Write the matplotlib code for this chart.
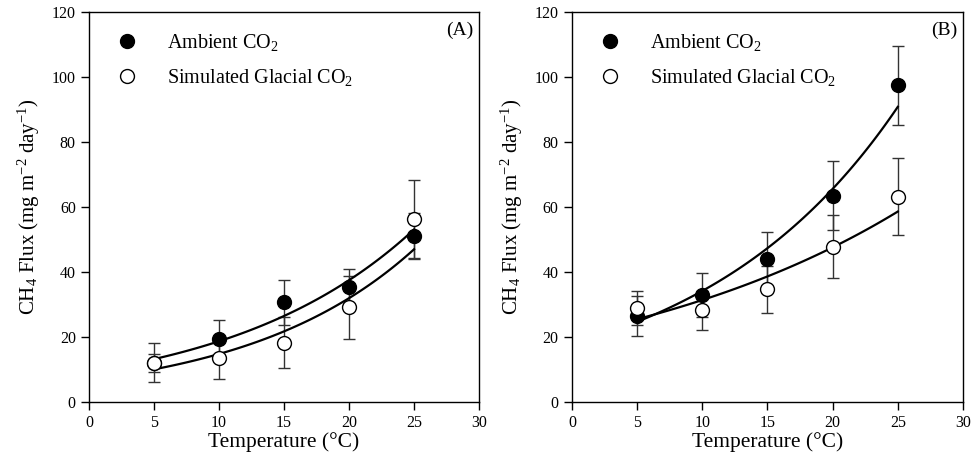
import numpy as np
import matplotlib
matplotlib.use("Agg")
import matplotlib.pyplot as plt

plt.rcParams['font.family'] = ['Liberation Serif', 'DejaVu Serif']
plt.rcParams['mathtext.fontset'] = 'custom'
plt.rcParams['mathtext.rm'] = 'Liberation Serif'
plt.rcParams['mathtext.it'] = 'Liberation Serif:italic'

# temperatures (°C)
temp = [5, 10, 15, 20, 25]

# panel A
a_amb = [12.1, 19.4, 30.7, 35.3, 51.1]
a_amb_err = [6.0, 5.9, 6.9, 5.5, 7.0]
a_gla = [12.0, 13.5, 18.3, 29.1, 56.2]
a_gla_err = [2.8, 6.4, 7.9, 9.8, 12.0]

# panel B
b_amb = [26.5, 33.0, 43.9, 63.5, 97.4]
b_amb_err = [6.1, 6.8, 8.5, 10.7, 12.2]
b_gla = [29.0, 28.3, 34.7, 47.8, 63.2]
b_gla_err = [5.2, 6.0, 7.2, 9.8, 11.8]

panels = [
    ("(A)", a_amb, a_amb_err, a_gla, a_gla_err),
    ("(B)", b_amb, b_amb_err, b_gla, b_gla_err),
]

fig = plt.figure(figsize=(9.71, 4.53), dpi=100)
positions = [[0.0917, 0.1126, 0.4017, 0.861], [0.589, 0.1126, 0.4027, 0.861]]

x = np.array(temp, dtype=float)
xfit = np.linspace(5, 25, 100)

for pos, (tag, amb, amb_err, gla, gla_err) in zip(positions, panels):
    ax = fig.add_axes(pos)

    ebkw = dict(fmt='none', ecolor='#333333', elinewidth=1.0, capsize=4, capthick=1.0, zorder=2)
    ax.errorbar(x, amb, yerr=amb_err, **ebkw)
    ax.errorbar(x, gla, yerr=gla_err, **ebkw)

    # exponential regression curves (fit on log scale)
    for y in (amb, gla):
        b, lna = np.polyfit(x, np.log(y), 1)
        ax.plot(xfit, np.exp(lna + b * xfit), color='black', lw=1.6, zorder=3)

    ax.plot(x, amb, 'o', ms=10, mfc='black', mec='black', mew=1.0, zorder=4,
            label='Ambient CO$_2$')
    ax.plot(x, gla, 'o', ms=10, mfc='white', mec='black', mew=1.0, zorder=5,
            label='Simulated Glacial CO$_2$')

    ax.set_xlim(0, 30)
    ax.set_ylim(0, 120)
    ax.set_xticks(np.arange(0, 31, 5))
    ax.set_yticks(np.arange(0, 121, 20))
    ax.tick_params(direction='out', length=6, width=1, labelsize=11.5, top=False, right=False)
    for s in ax.spines.values():
        s.set_linewidth(1.0)

    ax.set_xlabel('Temperature (°C)', fontsize=15.5, labelpad=1)
    ax.set_ylabel('CH$_4$ Flux (mg m$^{-2}$ day$^{-1}$)', fontsize=15, labelpad=7)
    ax.text(0.985, 0.975, tag, transform=ax.transAxes, ha='right', va='top', fontsize=14)

    ax.legend(loc='upper left', bbox_to_anchor=(0.04, 0.98), frameon=False, fontsize=14.5,
              handlelength=1.0, handletextpad=1.5, labelspacing=0.72, borderaxespad=0.2)

fig.savefig('out.png', dpi=100)
